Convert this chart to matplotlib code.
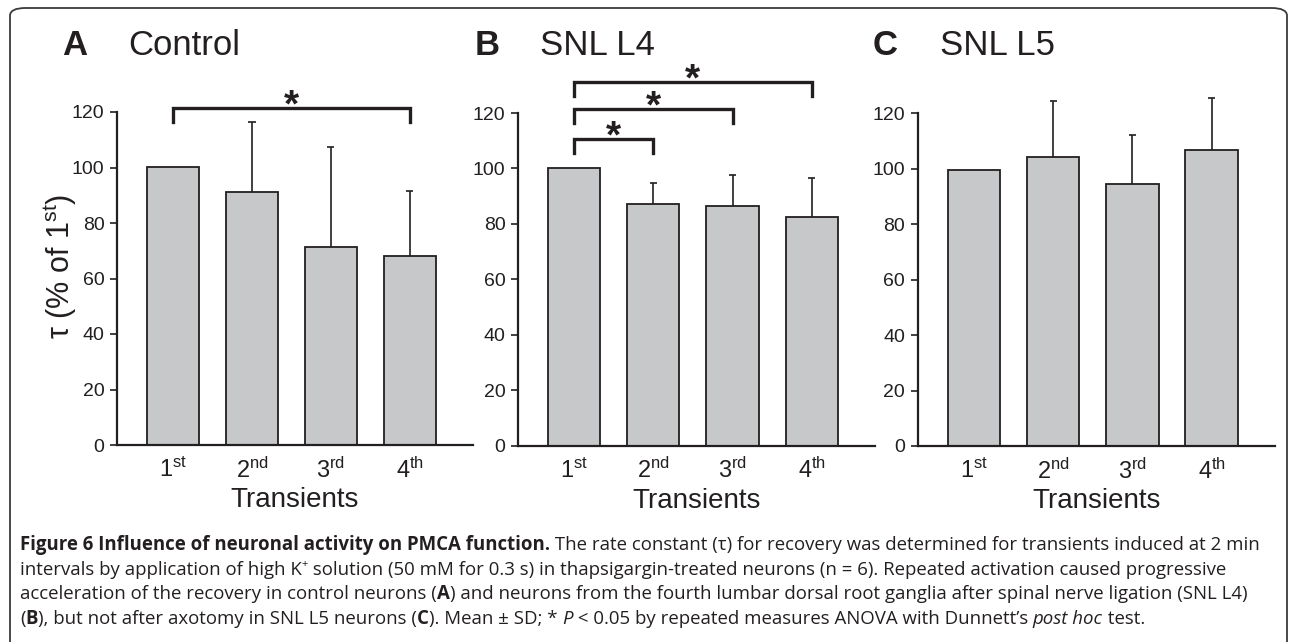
import matplotlib
matplotlib.use("Agg")
from matplotlib import pyplot as plt
from matplotlib.patches import FancyBboxPatch

plt.rcParams['font.family'] = ['Liberation Sans', 'DejaVu Sans']
plt.rcParams['mathtext.fontset'] = 'custom'
plt.rcParams['mathtext.rm'] = 'Liberation Sans'
plt.rcParams['mathtext.it'] = 'Liberation Sans:italic'

# data (tau, % of 1st transient)
transients = ['1$^{\\mathrm{st}}$', '2$^{\\mathrm{nd}}$', '3$^{\\mathrm{rd}}$', '4$^{\\mathrm{th}}$']
control_mean = [100.3, 91.0, 71.5, 68.1]
control_sd = [0, 25.5, 35.8, 23.5]
l4_mean = [100.2, 87.3, 86.6, 82.6]
l4_sd = [0, 7.3, 11.1, 13.9]
l5_mean = [99.5, 104.4, 94.5, 106.7]
l5_sd = [0, 20.2, 17.5, 18.8]

# significance brackets: (from, to, height)
control_sig = [(0, 3, 121.4)]
l4_sig = [(0, 1, 110.6), (0, 2, 121.5), (0, 3, 131.3)]
l5_sig = []

panels = [
    ('A', 'Control', control_mean, control_sd, control_sig),
    ('B', 'SNL L4', l4_mean, l4_sd, l4_sig),
    ('C', 'SNL L5', l5_mean, l5_sd, l5_sig),
]

W, H = 1290, 642
INK = '#231f20'
BAR = '#c7c8ca'

fig = plt.figure(figsize=(W / 100, H / 100), dpi=100)

def px_rect(x0, y0, x1, y1):
    return [x0 / W, 1 - y1 / H, (x1 - x0) / W, (y1 - y0) / H]

axes_px = [(117, 112, 473, 445), (518, 113, 875, 445.7), (917.7, 113.3, 1275, 446)]
letter_px = [(62, 128), (475, 540), (873, 940)]

# outer rounded frame
frame = FancyBboxPatch((10 / W, -10 / H), 1277 / W, (H - 8 + 10) / H,
                       boxstyle="round,pad=0,rounding_size=0.012",
                       transform=fig.transFigure, fill=False,
                       edgecolor='#3a3a3a', linewidth=1.3)
fig.patches.append(frame)

for k, (letter, name, means, sds, sigs) in enumerate(panels):
    ax = fig.add_axes(px_rect(*axes_px[k]))
    x = list(range(len(means)))
    ax.bar(x, means, width=0.66, color=BAR, edgecolor=INK, linewidth=1.3, zorder=2)
    for xi, m, s in zip(x, means, sds):
        if s > 0:
            ax.vlines(xi, m, m + s, color=INK, linewidth=1.2, zorder=3, clip_on=False)
            ax.hlines(m + s, xi - 0.045, xi + 0.045, color=INK, linewidth=1.2, zorder=3, clip_on=False)
    for i, j, yy in sigs:
        ax.plot([x[i], x[i], x[j], x[j]], [yy - 5, yy, yy, yy - 5], color=INK,
                linewidth=2.4, clip_on=False, solid_joinstyle='miter', zorder=4)
        ax.annotate('*', xy=((x[i] + x[j]) / 2, yy + 4), xytext=(0, -14),
                    textcoords='offset points', ha='center', va='baseline',
                    fontsize=28, fontweight='bold', color=INK, annotation_clip=False)

    ax.set_xlim(-0.71, 3.8)
    ax.set_ylim(0, 120)
    ax.set_yticks([0, 20, 40, 60, 80, 100, 120])
    ax.set_xticks(x)
    ax.set_xticklabels(transients)
    ax.spines['top'].set_visible(False)
    ax.spines['right'].set_visible(False)
    for sp in ('left', 'bottom'):
        ax.spines[sp].set_linewidth(1.6)
        ax.spines[sp].set_color(INK)
    ax.tick_params(axis='y', direction='out', length=5, width=1.2, color=INK,
                   labelsize=14, labelcolor=INK, pad=4)
    ax.tick_params(axis='x', length=0, labelsize=17, labelcolor=INK, pad=9)
    ax.text(0.5, -0.165, 'Transients', transform=ax.transAxes, ha='center', va='center',
            fontsize=20, color=INK)
    if k == 0:
        ax.text(-0.16, 0.535, 'τ (% of 1$^{\\mathrm{st}}$)', transform=ax.transAxes,
                rotation=90, ha='center', va='center', fontsize=22, color=INK)

    lx, nx = letter_px[k]
    fig.text(lx / W, 1 - 55 / H, letter, fontsize=25, fontweight='bold', color=INK, va='baseline')
    fig.text(nx / W, 1 - 55 / H, name, fontsize=25, color=INK, va='baseline')

# caption, drawn piece by piece so that bold / italic / superscript can mix
cap_lines = [
    [("Figure 6 Influence of neuronal activity on PMCA function.", 'b'),
     (" The rate constant (τ) for recovery was determined for transients induced at 2 min", 'n')],
    [("intervals by application of high K", 'n'), ("+", 'sup'),
     (" solution (50 mM for 0.3 s) in thapsigargin-treated neurons (n = 6). Repeated activation caused progressive", 'n')],
    [("acceleration of the recovery in control neurons (", 'n'), ("A", 'b'),
     (") and neurons from the fourth lumbar dorsal root ganglia after spinal nerve ligation (SNL L4)", 'n')],
    [("(", 'n'), ("B", 'b'), ("), but not after axotomy in SNL L5 neurons (", 'n'), ("C", 'b'),
     ("). Mean ± SD; * ", 'n'), ("P", 'i'), (" < 0.05 by repeated measures ANOVA with Dunnett’s ", 'n'),
     ("post hoc", 'i'), (" test.", 'n')],
]
cap_baselines = [550, 575, 599, 624]
cap_fs = 13.4
renderer = fig.canvas.get_renderer()

for line, yb in zip(cap_lines, cap_baselines):
    xcur = 20
    for txt, style in line:
        kw = dict(family=['Open Sans', 'DejaVu Sans'], color=INK, fontsize=cap_fs, va='baseline')
        ypos = yb
        if style == 'b':
            kw['fontweight'] = 'bold'
        elif style == 'i':
            kw['fontstyle'] = 'italic'
        elif style == 'sup':
            kw['fontsize'] = cap_fs * 0.6
            ypos = yb - 8
        # keep trailing / leading spaces measurable
        t = fig.text(xcur / W, 1 - ypos / H, txt.replace(' ', '\u00a0'), **kw)
        bb = t.get_window_extent(renderer)
        xcur += bb.width

fig.savefig("out.png", dpi=100)
